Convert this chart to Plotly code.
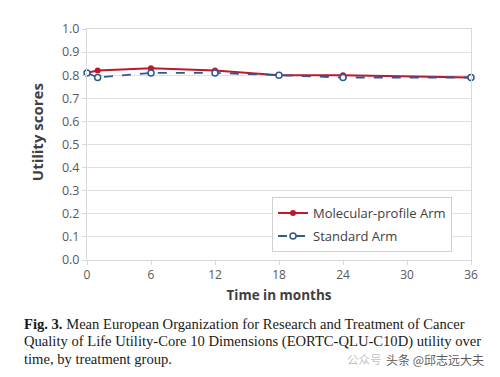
import plotly.graph_objects as go

months_mol = [0, 1, 6, 12, 18, 24, 36]
mol_values = [0.81, 0.82, 0.83, 0.82, 0.80, 0.80, 0.79]
months_std = [0, 1, 6, 12, 18, 24, 36]
std_values = [0.81, 0.79, 0.81, 0.81, 0.80, 0.79, 0.79]
x_ticks = [0, 6, 12, 18, 24, 30, 36]
y_ticks = [0.0, 0.1, 0.2, 0.3, 0.4, 0.5, 0.6, 0.7, 0.8, 0.9, 1.0]

caption_lines = [
    "<b>Fig. 3.</b> Mean European Organization for Research and Treatment of Cancer",
    "Quality of Life Utility-Core 10 Dimensions (EORTC-QLU-C10D) utility over",
    "time, by treatment group.",
]

# page body has an 8px margin: plot area should land at x 87..471, y 25..260 on screen
PW, PH = 384, 235
fig = go.Figure()
fig.add_trace(go.Scatter(
    x=months_mol, y=mol_values, name="Molecular-profile Arm", legendgroup="a",
    mode="lines+markers", cliponaxis=False,
    line=dict(color="#C0172A", width=2),
    marker=dict(color="#C0172A", size=6, symbol="circle"),
))
fig.add_trace(go.Scatter(
    x=months_std, y=std_values, name="Standard Arm", legendgroup="b",
    mode="lines+markers", cliponaxis=False,
    line=dict(color="#2E5A94", width=1.8, dash="dash"),
    marker=dict(color="white", size=6, symbol="circle",
                line=dict(color="#2E5A94", width=1.5)),
))

font_ax = "Open Sans, Liberation Sans, Arial"
fig.update_layout(
    width=492, height=369,
    margin=dict(l=79, r=29, t=17, b=117),
    paper_bgcolor="white", plot_bgcolor="white",
    font=dict(family=font_ax, color="#595959", size=12),
    showlegend=True,
    legend=dict(
        x=(272 - 87) / PW, y=8 / PH, xanchor="left", yanchor="bottom",
        bgcolor="white", bordercolor="#D0D0D0", borderwidth=1,
        font=dict(size=13, color="#404040", family=font_ax),
        tracegroupgap=3,
    ),
    xaxis=dict(
        range=[0, 36], tickvals=x_ticks, ticks="outside", ticklen=4,
        tickcolor="#D9D9D9", showgrid=False, showline=True,
        linecolor="#D9D9D9", linewidth=1, mirror=True, zeroline=False,
        title=dict(text="<b>Time in months</b>", standoff=8,
                   font=dict(size=13.5, color="#404040")),
        tickfont=dict(size=12, color="#595959"),
    ),
    yaxis=dict(
        range=[0, 1.0], tickvals=y_ticks, tickformat=".1f", ticks="outside",
        ticklen=4, tickcolor="#D9D9D9", showgrid=True, gridcolor="#E0E0E0",
        showline=True, linecolor="#D9D9D9", linewidth=1, mirror=True,
        zeroline=False,
        tickfont=dict(size=12.5, color="#595959"),
    ),
)

# y-axis title (sits above plot centre in the reference)
fig.add_annotation(
    text="<b>Utility scores</b>", xref="paper", yref="paper",
    x=(37 - 87) / PW, y=(260 - 130) / PH, xanchor="center", yanchor="middle",
    textangle=-90, showarrow=False,
    font=dict(size=15, color="#404040", family=font_ax),
)

for i, line in enumerate(caption_lines):
    fig.add_annotation(
        text=line, xref="paper", yref="paper",
        x=(22 - 87) / PW, y=-(65 + i * 17.8) / PH, xanchor="left", yanchor="middle",
        showarrow=False, align="left",
        font=dict(family="Liberation Serif, DejaVu Serif", size=14.6, color="#1a1a1a"),
    )

fig.add_annotation(
    text="公众号", xref="paper", yref="paper",
    x=(384 - 87) / PW, y=-(101) / PH, xanchor="right", yanchor="middle",
    showarrow=False,
    font=dict(family="Noto Sans CJK SC", size=11.5, color="rgba(150,150,150,0.6)"),
)
fig.add_annotation(
    text="头条 @邱志远大夫", xref="paper", yref="paper",
    x=(486 - 87) / PW, y=-(101) / PH, xanchor="right", yanchor="middle",
    showarrow=False,
    font=dict(family="Noto Sans CJK SC", size=12, color="rgba(60,60,60,0.85)"),
)

fig.write_html("out.html")
